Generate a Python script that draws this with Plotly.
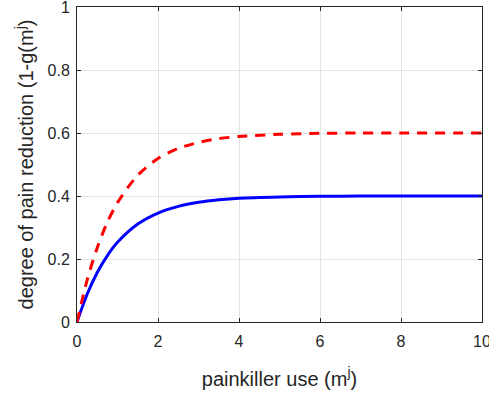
import plotly.graph_objects as go

# painkiller use m^j (sample points along the curves)
use = [0, 0.25, 0.5, 0.75, 1, 1.5, 2, 2.5, 3, 3.5, 4, 5, 6, 7, 8, 10]
# degree of pain reduction, lower curve (solid blue)
reduction_low = [0, 0.088, 0.157, 0.211, 0.253, 0.311, 0.346, 0.367, 0.380,
                 0.388, 0.393, 0.397, 0.399, 0.400, 0.400, 0.400]
# degree of pain reduction, upper curve (dashed red)
reduction_high = [0, 0.133, 0.236, 0.317, 0.379, 0.466, 0.519, 0.551, 0.570,
                  0.582, 0.589, 0.596, 0.599, 0.600, 0.600, 0.600]

x_ticks = [0, 2, 4, 6, 8, 10]
x_tick_text = ["0", "2", "4", "6", "8", "10"]
y_ticks = [0, 0.2, 0.4, 0.6, 0.8, 1]
y_tick_text = ["0", "0.2", "0.4", "0.6", "0.8", "1"]

TXT = "#262626"
FONT = "Liberation Sans, Arial, sans-serif"

fig = go.Figure()
fig.add_trace(go.Scatter(
    x=use, y=reduction_low, mode="lines",
    line=dict(color="#0000ff", width=3, shape="spline", smoothing=0.8),
    showlegend=False, hoverinfo="skip"))
fig.add_trace(go.Scatter(
    x=use, y=reduction_high, mode="lines",
    line=dict(color="#ff0000", width=3, dash="10px,8px", shape="spline",
              smoothing=0.8),
    showlegend=False, hoverinfo="skip"))

axis_common = dict(
    showgrid=True, gridcolor="#e3e3e3", gridwidth=1,
    showline=True, linecolor=TXT, linewidth=1, mirror="allticks",
    ticks="inside", ticklen=4, tickcolor=TXT, tickwidth=1,
    zeroline=False, ticklabeloverflow="allow", automargin=False,
    tickfont=dict(family=FONT, size=16, color=TXT),
)

fig.update_layout(
    width=489, height=393,
    margin=dict(l=77, r=7, t=7, b=71),
    paper_bgcolor="white", plot_bgcolor="white",
    font=dict(family=FONT, color=TXT),
    xaxis=dict(range=[0, 10], tickvals=x_ticks, ticktext=x_tick_text,
               ticklabelstandoff=5,
               title=dict(text="painkiller use (m<sup>j</sup>)",
                          font=dict(family=FONT, size=20, color=TXT),
                          standoff=22),
               **axis_common),
    yaxis=dict(range=[0, 1], tickvals=y_ticks, ticktext=y_tick_text,
               ticklabelstandoff=3,
               title=dict(text="degree of pain reduction (1-g(m<sup>j</sup>)",
                          font=dict(family=FONT, size=20, color=TXT),
                          standoff=8),
               **axis_common),
)

fig.write_html("out.html")
